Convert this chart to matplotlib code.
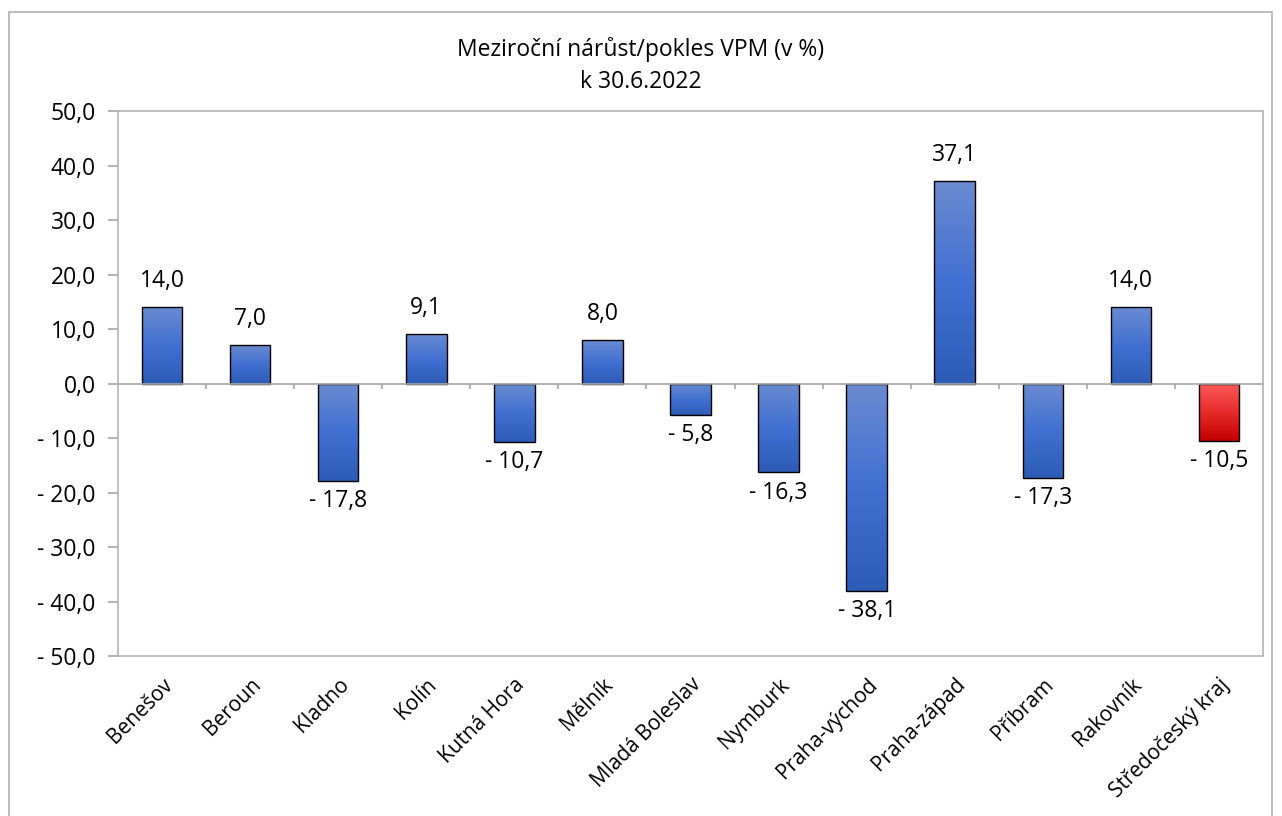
import numpy as np
import matplotlib
matplotlib.use('Agg')
import matplotlib.pyplot as plt
from matplotlib.colors import LinearSegmentedColormap
from matplotlib.patches import Rectangle

# Meziroční nárůst/pokles VPM by district

districts = ['Benešov', 'Beroun', 'Kladno', 'Kolín', 'Kutná Hora', 'Mělník',
             'Mladá Boleslav', 'Nymburk', 'Praha-východ', 'Praha-západ',
             'Příbram', 'Rakovník', 'Středočeský kraj']
values = [14.0, 7.0, -17.8, 9.1, -10.7, 8.0, -5.8, -16.3, -38.1, 37.1,
          -17.3, 14.0, -10.5]
yticks = [50, 40, 30, 20, 10, 0, -10, -20, -30, -40, -50]

plt.rcParams['font.family'] = ['Open Sans', 'DejaVu Sans']


def cz(v):
    # Czech style number: comma decimal, "- " prefix for negatives
    s = '%.1f' % abs(v)
    s = s.replace('.', ',')
    if v < 0:
        s = '- ' + s
    return s


blue = LinearSegmentedColormap.from_list('b', ['#6a8bd0', '#4170d2', '#2c5cb6'])
red = LinearSegmentedColormap.from_list('r', ['#ff5b5b', '#e62b2b', '#c00000'])

fig = plt.figure(figsize=(12.82, 8.16), dpi=100)
fig.patches.append(Rectangle((9 / 1282, -0.1), 1263 / 1282, 1.1 - 12 / 816,
                             transform=fig.transFigure, fill=False,
                             edgecolor='#b0b0b0', linewidth=1.2))
ax = fig.add_axes([118 / 1282, 1 - 656 / 816, 1145 / 1282, 545 / 816])

x = np.arange(len(districts))
bars = ax.bar(x, values, width=0.46, color='none', edgecolor='black',
              linewidth=1.0, zorder=3)
grad = np.linspace(0, 1, 256).reshape(-1, 1)
for i, (b, v) in enumerate(zip(bars, values)):
    cmap = red if i == len(values) - 1 else blue
    x0 = b.get_x()
    im = ax.imshow(grad, cmap=cmap, aspect='auto', origin='upper',
                   extent=[x0, x0 + b.get_width(), min(0, v), max(0, v)],
                   zorder=2)
    im.set_clip_path(b)
    if v >= 0:
        ax.annotate(cz(v), (b.get_x() + b.get_width() / 2, v),
                    xytext=(0, 10), textcoords='offset points',
                    ha='center', va='bottom', fontsize=16.5)
    else:
        ax.annotate(cz(v), (b.get_x() + b.get_width() / 2, v),
                    xytext=(0, -6), textcoords='offset points',
                    ha='center', va='top', fontsize=16.5)

ax.set_xlim(-0.5, len(districts) - 0.5)
ax.set_ylim(-50, 50)
ax.axhline(0, color='#a6a6a6', linewidth=1.2, zorder=4)
ax.vlines(x[:-1] + 0.5, 0, -1.1, color='#a6a6a6', linewidth=1.2, zorder=4)

ax.set_yticks(yticks)
ax.set_yticklabels([cz(t) if t != 0 else '0,0' for t in yticks], fontsize=16.5)
ax.tick_params(axis='y', length=7, color='#a6a6a6', width=1.2, pad=9)
ax.set_xticks(x)
ax.set_xticklabels(districts, rotation=45, ha='right', rotation_mode='anchor',
                   fontsize=15)
ax.tick_params(axis='x', length=0, pad=13)
for s in ax.spines.values():
    s.set_color('#b4b4b4')
    s.set_linewidth(1.2)

fig.text(0.5, 1 - 49 / 816, 'Meziroční nárůst/pokles VPM (v %)',
         ha='center', va='center', fontsize=16.5)
fig.text(0.5, 1 - 82 / 816, 'k 30.6.2022', ha='center', va='center',
         fontsize=16.5)

plt.savefig('out.png', dpi=100)
